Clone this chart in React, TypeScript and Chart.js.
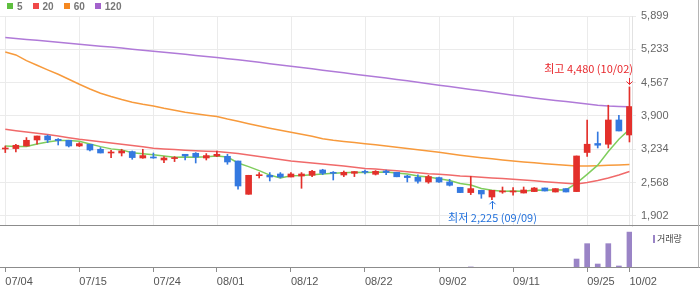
import React, { useEffect, useRef } from "react";
import { Chart, registerables } from "chart.js";

Chart.register(...registerables);

// ---------- data ----------
const dates = [
  "07/04","07/05","07/08","07/09","07/10","07/11","07/12","07/15","07/16","07/17",
  "07/18","07/19","07/22","07/23","07/24","07/25","07/26","07/29","07/30","07/31",
  "08/01","08/02","08/05","08/06","08/07","08/08","08/09","08/12","08/13","08/14",
  "08/16","08/19","08/20","08/21","08/22","08/23","08/26","08/27","08/28","08/29",
  "08/30","09/02","09/03","09/04","09/05","09/06","09/09","09/10","09/11","09/12",
  "09/13","09/19","09/20","09/23","09/24","09/25","09/26","09/27","09/30","10/02",
];
const tickDates = ["07/04","07/15","07/24","08/01","08/12","08/22","09/02","09/11","09/25","10/02"];

const opens = [
  3240,3248,3300,3420,3500,3434,3414,3300,3334,3234,
  3160,3160,3188,3060,3074,3020,3048,3134,3154,3060,
  3100,3094,3000,2334,2706,2714,2740,2680,2700,2714,
  2820,2774,2720,2754,2794,2734,2800,2774,2700,2674,
  2580,2668,2580,2474,2368,2414,2280,2380,2380,2360,
  2388,2460,2380,2448,2388,3170,3350,3335,3820,3520,
];
const highs = [
  3300,3334,3468,3500,3520,3448,3414,3368,3334,3268,
  3214,3234,3200,3234,3160,3088,3088,3134,3168,3148,
  3200,3134,3000,2714,2768,2768,2768,2768,2768,2814,
  2834,2788,2800,2788,2820,2808,2820,2774,2714,2724,
  2714,2680,2634,2474,2694,2414,2414,2480,2468,2480,
  2470,2460,2448,2448,3100,3820,3580,4115,3915,4480,
];
const lows = [
  3168,3180,3300,3334,3368,3320,3280,3288,3200,3160,
  3068,3100,3034,3054,3054,2968,2988,3020,2960,3020,
  3088,2934,2434,2334,2660,2600,2660,2680,2454,2688,
  2728,2620,2688,2688,2740,2720,2728,2684,2580,2554,
  2554,2570,2500,2368,2328,2254,2225,2354,2314,2360,
  2388,2400,2380,2380,2388,3090,3260,3260,3600,3380,
];
const closes = [
  3254,3314,3414,3500,3420,3408,3300,3348,3220,3160,
  3180,3200,3068,3108,3060,3060,3068,3100,3080,3108,
  3134,2980,2500,2714,2714,2680,2680,2740,2740,2794,
  2754,2754,2774,2788,2774,2794,2768,2684,2668,2594,
  2688,2580,2514,2368,2448,2340,2414,2400,2400,2420,
  2460,2400,2448,2380,3100,3335,3315,3820,3600,4088,
];
const volumes = [
  42000,38000,55000,51000,47000,30000,36000,28000,33000,41000,
  25000,22000,39000,27000,24000,21000,19000,26000,31000,23000,
  20000,35000,60000,50000,40000,28000,22000,18000,45000,30000,
  21000,24000,17000,16000,15000,19000,18000,26000,22000,25000,
  29000,27000,33000,48000,300000,60000,55000,25000,30000,27000,
  35000,22000,24000,20000,2500000,6780000,1110000,6780000,560000,10000000,
];

const ma5 = [
  3300,3290,3292,3340,3380,3411,3408,3395,3339,3287,
  3242,3222,3166,3143,3123,3099,3073,3079,3074,3083,
  3098,3080,2960,2887,2808,2718,2658,2706,2711,2727,
  2742,2756,2763,2773,2769,2777,2780,2762,2738,2702,
  2680,2643,2609,2549,2520,2450,2417,2394,2400,2395,
  2419,2416,2426,2422,2558,2733,2916,3190,3434,3632,
];
const ma20 = [
  3634,3605,3578,3555,3530,3500,3465,3434,3410,3385,
  3360,3335,3310,3285,3254,3240,3228,3215,3205,3195,
  3188,3170,3150,3120,3090,3060,3030,3000,2980,2960,
  2940,2920,2900,2875,2850,2838,2822,2805,2785,2765,
  2745,2735,2718,2700,2688,2675,2662,2648,2634,2620,
  2604,2585,2570,2555,2540,2570,2610,2660,2720,2788,
];
const ma60 = [
  5180,5120,5008,4914,4822,4734,4634,4534,4440,4354,
  4288,4228,4174,4134,4100,4054,4014,3974,3944,3914,
  3888,3838,3794,3744,3698,3654,3614,3574,3534,3494,
  3444,3414,3390,3368,3344,3324,3300,3274,3248,3224,
  3198,3174,3144,3114,3088,3066,3044,3022,3000,2980,
  2964,2946,2930,2914,2900,2900,2906,2914,2922,2928,
];
const ma120 = [
  5468,5450,5430,5412,5392,5374,5354,5334,5316,5296,
  5278,5258,5236,5216,5194,5174,5152,5132,5110,5088,
  5068,5046,5026,5000,4974,4946,4920,4894,4868,4842,
  4816,4788,4762,4736,4710,4684,4658,4630,4602,4574,
  4546,4516,4488,4460,4430,4402,4374,4344,4316,4288,
  4260,4234,4210,4188,4164,4140,4116,4098,4090,4082,
];

const maNames = ["5", "20", "60", "120"];
const priceTickValues = [1902, 2568, 3234, 3900, 4567, 5233, 5899];
const priceTickLabels = ["1,902", "2,568", "3,234", "3,900", "4,567", "5,233", "5,899"];

// ---------- styles ----------
const UP = "#e3302b";
const DOWN = "#3479e0";
const VOL = "#9a84c6";
const maColors = ["#5fbf40", "#f04848", "#f58820", "#a362cc"];
const maLineColors = ["#7fcd5c", "#f06a6a", "#f79a3c", "#b07ad8"];
const LABEL_FONT = '"Liberation Sans", Arial, sans-serif';
const KR_FONT = '"Noto Sans CJK KR", "Noto Sans", sans-serif';

const fmt = (v: number) => v.toLocaleString("en-US");

export default function App() {
  const canvasRef = useRef<HTMLCanvasElement | null>(null);

  useEffect(() => {
    document.body.style.margin = "0";
    const canvas = canvasRef.current;
    if (!canvas) return;

    const idx = dates.map((_, i) => i);
    const candleColors = idx.map((i) => (closes[i] >= opens[i] ? UP : DOWN));
    const tickIdx = tickDates.map((d) => dates.indexOf(d));
    const maSeries = [ma5, ma20, ma60, ma120];

    const overlay = {
      id: "overlay",
      beforeDatasetsDraw(chart: any) {
        const { ctx } = chart;
        const x = chart.scales.x;
        const y = chart.scales.y;
        ctx.save();
        ctx.strokeStyle = "#ebebeb";
        ctx.lineWidth = 1;
        tickIdx.forEach((i) => {
          const px = Math.round(x.getPixelForValue(i)) + 0.5;
          ctx.beginPath();
          ctx.moveTo(px, y.top);
          ctx.lineTo(px, y.bottom);
          ctx.stroke();
        });
        ctx.restore();
      },
      afterDatasetsDraw(chart: any) {
        const { ctx } = chart;
        const x = chart.scales.x;
        const y = chart.scales.y;
        const W = chart.width;
        ctx.save();
        ctx.strokeStyle = "#8c8c8c";
        ctx.lineWidth = 1;
        const sepY = Math.round(y.bottom) - 0.5;
        ctx.beginPath();
        ctx.moveTo(0, sepY);
        ctx.lineTo(W, sepY);
        ctx.stroke();
        const axY = Math.round(x.top) - 0.5;
        ctx.beginPath();
        ctx.moveTo(0, axY);
        ctx.lineTo(W, axY);
        ctx.stroke();
        ctx.strokeStyle = "#b4b4b4";
        ctx.beginPath();
        ctx.moveTo(W - 1.5, 0);
        ctx.lineTo(W - 1.5, axY);
        ctx.stroke();

        const hi = Math.max(...highs);
        const hiI = highs.indexOf(hi);
        const lo = Math.min(...lows);
        const loI = lows.indexOf(lo);
        ctx.font = `11px ${KR_FONT}`;
        ctx.textBaseline = "middle";

        {
          const px = Math.round(x.getPixelForValue(hiI)) + 0.5;
          const py = y.getPixelForValue(hi);
          const text = `최고 ${fmt(hi)} (${dates[hiI]})`;
          const tw = ctx.measureText(text).width;
          ctx.fillStyle = "#e8262b";
          ctx.strokeStyle = "#e8262b";
          if (px + tw / 2 > x.right) {
            ctx.textAlign = "right";
            ctx.fillText(text, px + 3.5, py - 18);
          } else {
            ctx.textAlign = "center";
            ctx.fillText(text, px, py - 18);
          }
          const tip = py - 2.5;
          ctx.beginPath();
          ctx.moveTo(px, py - 9);
          ctx.lineTo(px, tip);
          ctx.moveTo(px - 3, tip - 3);
          ctx.lineTo(px, tip);
          ctx.lineTo(px + 3, tip - 3);
          ctx.stroke();
        }
        {
          const px = Math.round(x.getPixelForValue(loI)) + 0.5;
          const py = y.getPixelForValue(lo);
          const text = `최저 ${fmt(lo)} (${dates[loI]})`;
          ctx.fillStyle = "#1f6fdc";
          ctx.strokeStyle = "#1f6fdc";
          ctx.textAlign = "center";
          ctx.fillText(text, px, py + 18);
          const tip = py + 1.5;
          ctx.beginPath();
          ctx.moveTo(px, py + 9.5);
          ctx.lineTo(px, tip);
          ctx.moveTo(px - 3, tip + 3);
          ctx.lineTo(px, tip);
          ctx.lineTo(px + 3, tip + 3);
          ctx.stroke();
        }
        ctx.restore();
      },
    };

    const chart = new Chart(canvas, {
      type: "bar",
      data: {
        datasets: [
          {
            type: "bar",
            label: "body",
            data: idx.map((i) => ({ x: i, y: [opens[i], closes[i]] })) as any,
            backgroundColor: candleColors,
            barThickness: 6,
            grouped: false,
            minBarLength: 1,
            yAxisID: "y",
            order: 1,
          } as any,
          {
            type: "bar",
            label: "wick",
            data: idx.map((i) => ({ x: i, y: [lows[i], highs[i]] })) as any,
            backgroundColor: candleColors,
            barThickness: 1,
            grouped: false,
            yAxisID: "y",
            order: 2,
          } as any,
          ...maSeries.map((s, k) => ({
            type: "line",
            label: "MA" + maNames[k],
            data: s.map((v, i) => ({ x: i, y: v })),
            borderColor: maLineColors[k],
            borderWidth: 1.5,
            pointRadius: 0,
            tension: 0,
            yAxisID: "y",
            order: 3 + k,
          })) as any,
          {
            type: "bar",
            label: "거래량",
            data: idx.map((i) => ({ x: i, y: volumes[i] })) as any,
            backgroundColor: VOL,
            barThickness: 5,
            grouped: false,
            yAxisID: "yv",
            order: 0,
          } as any,
        ],
      },
      options: {
        responsive: false,
        animation: false,
        events: [],
        layout: { padding: { top: 16, left: 0, right: 0, bottom: 0 } },
        plugins: { legend: { display: false }, tooltip: { enabled: false } },
        scales: {
          x: {
            type: "linear",
            position: "bottom",
            offset: false,
            min: -0.5,
            max: 59.24,
            afterBuildTicks: (s: any) => {
              s.ticks = tickIdx.map((v) => ({ value: v }));
            },
            afterFit: (s: any) => {
              s.height = 21;
              s.paddingLeft = 0;
              s.paddingRight = 0;
            },
            ticks: {
              autoSkip: false,
              maxRotation: 0,
              align: "start",
              padding: 3,
              color: "#555",
              font: { family: LABEL_FONT, size: 11 },
              callback: (v: any) => dates[v] ?? "",
            },
            grid: { offset: false, drawOnChartArea: false, tickLength: 4, color: "#8c8c8c" },
            border: { display: false },
          },
          y: {
            type: "linear",
            position: "right",
            stack: "main",
            stackWeight: 210,
            min: 1700,
            max: 5899,
            afterBuildTicks: (s: any) => {
              s.ticks = priceTickValues.map((v) => ({ value: v }));
            },
            afterFit: (s: any) => {
              s.width = 68;
            },
            ticks: {
              padding: 5,
              color: "#666",
              font: { family: LABEL_FONT, size: 11 },
              callback: (_v: any, i: number) => priceTickLabels[i],
            },
            grid: { color: "#ebebeb", tickLength: 4 },
            border: { display: true, color: "#e2e2e2" },
          },
          yv: {
            type: "linear",
            position: "right",
            stack: "main",
            stackWeight: 42,
            min: 0,
            max: 11700000,
            afterFit: (s: any) => {
              s.width = 68;
            },
            ticks: { display: false },
            grid: { display: false },
            border: { display: false },
          },
        },
      } as any,
      plugins: [overlay],
    });

    return () => chart.destroy();
  }, []);

  return (
    <div style={{ position: "relative", width: 700, height: 289 }}>
      <canvas ref={canvasRef} width={700} height={289} style={{ display: "block" }} />
      <div
        style={{
          position: "absolute",
          left: 7,
          top: 1,
          display: "flex",
          alignItems: "center",
          height: 10,
          font: `bold 10px ${LABEL_FONT}`,
          color: "#777",
        }}
      >
        {maNames.map((n, i) => (
          <div key={n} style={{ display: "flex", alignItems: "center", marginRight: 10 }}>
            <span style={{ display: "inline-block", width: 6, height: 6, background: maColors[i], marginRight: 4 }} />
            <span>{n}</span>
          </div>
        ))}
      </div>
      <div
        style={{
          position: "absolute",
          left: 653,
          top: 232,
          display: "flex",
          alignItems: "center",
          font: `9px ${KR_FONT}`,
          color: "#444",
        }}
      >
        <span style={{ display: "inline-block", width: 2, height: 8, background: VOL, marginRight: 2 }} />
        <span>거래량</span>
      </div>
    </div>
  );
}
